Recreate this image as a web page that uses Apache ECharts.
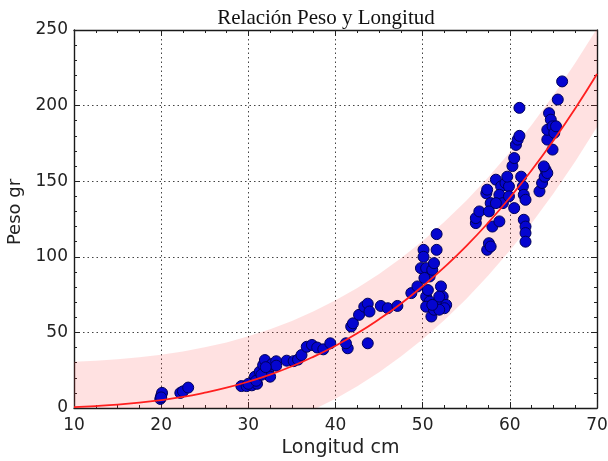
<!DOCTYPE html>
<html>
<head>
<meta charset="utf-8">
<script src="https://cdn.jsdelivr.net/npm/echarts@6/dist/echarts.min.js"></script>
<style>html,body{margin:0;padding:0;background:#fff}#c{width:608px;height:461px}</style>
</head>
<body>
<div id="c"></div>
<script>
// Scatter observations (Longitud cm, Peso gr)
var lengthCm = [19.9,20,20.1,20,22.2,22.5,23.1,
  29.2,29.8,30.4,31,30.75,31.3,31.7,31.9,32.3,32.5,32.7,33.2,33.2,34.4,35.2,35.7,36.1,36.7,37.3,37.9,38.6,39.4,30,30.9,31.5,32,
  41.4,41.2,41.8,42,42.7,43.3,43.7,43.9,43.7,45.2,46,47.1,48.7,49.4,
  50.1,50.1,49.8,50.4,50.8,50.2,51.1,51.3,51.6,51.6,50.4,50.8,50.4,51,51.3,51.7,52.1,52.3,52.7,52.5,51.9,51.1,50.6,51.9,
  56.1,56.1,56.5,57.3,57.4,57.8,57.6,58,58.8,58.4,59,58.8,59.2,58.4,59.5,59.9,59.9,59.7,57.4,57.6,57.8,
  60.5,60.3,60.5,60.7,60.9,61.1,61.1,61.3,61.5,61.6,61.8,61.6,61.8,61.8,61.8,
  63.4,63.7,64,64.1,64.3,63.9,64.3,64.3,64.5,64.7,64.9,65.1,65.3,64.9,65.5,66];
var weightGr = [6,8,10,7,10,11,13.5,
  14.5,14.5,15,16,20.7,24,28.4,31.7,25,20.7,29,30.9,28,31.3,31,32,35,40.5,41.7,40,38.8,42.8,16,18,22,27,
  39.5,42.8,53.9,56,61.6,67,69,63.8,42.8,67.5,66,67.5,76,80.4,
  104.6,100,92.5,92.5,87,86,91.4,95.8,104.6,115,73.7,70.4,67,60.5,65,69.3,80.4,73.7,68.2,66,65,68.2,78,73.7,
  122.3,125.6,130,142,144.4,135.5,130,120,123.4,151,146.6,141,135.5,135.5,148.8,146.6,140,153,104.6,109,106.8,
  132.2,160,165.3,174,177.5,180,198.5,153,146.6,141,137.7,124.5,120,115.7,110,
  143.3,148.8,153,157.6,155.4,159.8,177.5,184,195,190.7,186.3,182,186.3,170.9,204,216];

// Fitted curve and band
var fitX = [10,12.5,15,17.5,20,22.5,25,27.5,30,32.5,35,37.5,40,42.5,45,47.5,50,52.5,55,57.5,60,62.5,65,67.5,70];
var fitY = [0.6,1.3,2.2,3.5,5.2,7.3,10.1,13.4,17.4,22.1,27.6,34.0,41.2,49.4,58.7,69.0,80.5,93.2,107.1,122.4,139.1,157.2,176.9,198.1,220.9];
var bandUpper = [30.6,31.3,32.2,33.5,35.2,37.3,40.1,43.4,47.4,52.1,57.6,64.0,71.2,79.4,88.7,99.0,110.5,123.2,137.1,152.4,169.1,187.2,206.9,228.1,250.9];
var bandLower = [-34.4,-33.7,-32.8,-31.5,-29.8,-27.7,-24.9,-21.6,-17.6,-12.9,-7.4,-1.0,6.2,14.4,23.7,34.0,45.5,58.2,72.1,87.4,104.1,122.2,141.9,163.1,185.9];

var xTicks = [10,20,30,40,50,60,70];
var yTicks = [0,50,100,150,200,250];

var pts = lengthCm.map(function(x,i){return [x, weightGr[i]];});
var curve = fitX.map(function(x,i){return [x, fitY[i]];});

var chart = echarts.init(document.getElementById('c'), null, {renderer:'canvas'});
var axisLineStyle = {color:'#1a1a1a', width:1.4};
var font = 'DejaVu Sans';
function xAx(pos, showLabel){
  return {type:'value', position:pos, min:xTicks[0], max:xTicks[xTicks.length-1], interval:10,
    axisLine:{show:true, onZero:false, lineStyle:axisLineStyle},
    axisTick:{show:true, inside:true, length:6, lineStyle:{color:'#222'}},
    minorTick:{show:true, splitNumber:4, length:3, lineStyle:{color:'#222'}},
    axisLabel:{show:showLabel, color:'#222', fontSize:17, fontFamily:font, margin:9},
    splitLine:{show:showLabel, lineStyle:{color:'#444', type:[1.5,3], width:1}},
    name: showLabel ? 'Longitud cm' : '', nameLocation:'middle', nameGap:29,
    nameTextStyle:{color:'#222', fontSize:19, fontFamily:font, padding:[0,0,0,10]}};
}
function yAx(pos, showLabel){
  return {type:'value', position:pos, min:yTicks[0], max:yTicks[yTicks.length-1], interval:50,
    axisLine:{show:true, onZero:false, lineStyle:axisLineStyle},
    axisTick:{show:true, inside:true, length:6, lineStyle:{color:'#222'}},
    minorTick:{show:true, splitNumber:5, length:3, lineStyle:{color:'#222'}},
    axisLabel:{show:showLabel, color:'#222', fontSize:17, fontFamily:font, margin:6},
    splitLine:{show:showLabel, lineStyle:{color:'#444', type:[1.5,3], width:1}},
    name: showLabel ? 'Peso gr' : '', nameLocation:'middle', nameGap:42, nameRotate:90,
    nameTextStyle:{color:'#222', fontSize:18, fontFamily:font, padding:[0,0,0,14]}};
}
chart.setOption({
  animation:false,
  backgroundColor:'#fff',
  title:{text:'Relación Peso y Longitud', left:321, textAlign:'center', top:3,
    textStyle:{fontFamily:'Liberation Serif', fontWeight:'normal', fontSize:21, color:'#111'}},
  grid:{left:74, right:11, top:30, bottom:53, containLabel:false, outerBoundsMode:'none'},
  xAxis:[xAx('bottom', true), xAx('top', false)],
  yAxis:[yAx('left', true), yAx('right', false)],
  series:[
    {type:'custom', data:[0], silent:true, z:1, clip:true,
      renderItem:function(params, api){
        var poly = [];
        for (var i=0;i<fitX.length;i++) poly.push(api.coord([fitX[i], bandUpper[i]]));
        for (var j=fitX.length-1;j>=0;j--) poly.push(api.coord([fitX[j], bandLower[j]]));
        var cs = params.coordSys;
        return {type:'polygon', shape:{points:poly},
          style:{fill:'rgba(255,40,40,0.14)', stroke:null},
          clipPath:{type:'rect', shape:{x:cs.x, y:cs.y, width:cs.width, height:cs.height}}};
      }},
    {type:'scatter', data:pts, symbolSize:11,
      itemStyle:{color:'#0505d0', borderColor:'#00005a', borderWidth:1, opacity:1}, z:3},
    {type:'line', data:curve, symbol:'none', smooth:true,
      lineStyle:{color:'#ff1f1f', width:1.8}, z:4}
  ]
});
</script>
</body>
</html>
